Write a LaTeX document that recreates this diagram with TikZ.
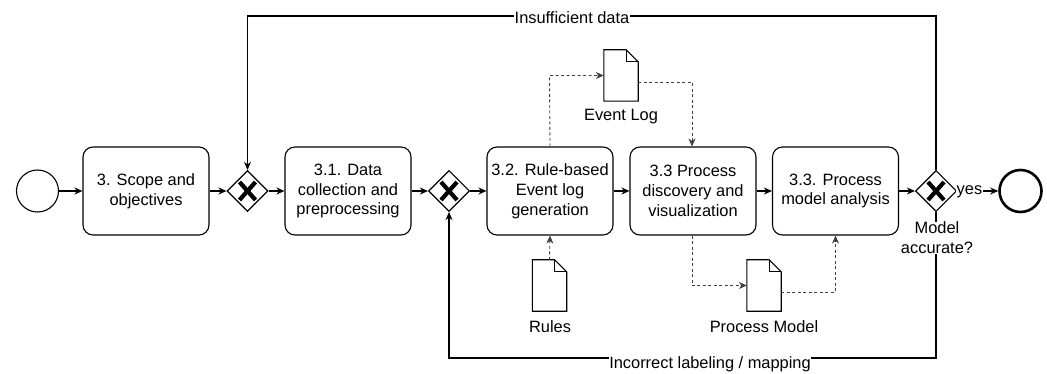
\documentclass[tikz,border=0pt]{standalone}
\usepackage{fontspec}
\setmainfont{Liberation Sans}
\usetikzlibrary{arrows.meta,shapes.geometric}
\tikzset{
  txt/.style={font=\fontsize{16.4}{19.8}\selectfont, text=black},
  task/.style={txt, draw=black, line width=1.1pt, rounded corners=10pt, minimum width=126pt, minimum height=88pt, inner sep=0pt, align=center},
  gate/.style={draw=black, line width=1.1pt, diamond, shape aspect=1, minimum width=41pt, minimum height=41pt, inner sep=0pt},
  gx/.style={line width=4.2pt, line cap=butt},
  flow/.style={draw=black, line width=1.1pt, -{Stealth[length=8pt,width=7pt,inset=2.5pt]}},
  plain/.style={draw=black, line width=1.1pt},
  assoc/.style={draw=black!75, line width=0.9pt, dash pattern=on 3pt off 2.5pt, -{Stealth[length=8pt,width=7pt,inset=2.5pt]}},
  assocp/.style={draw=black!75, line width=0.9pt, dash pattern=on 3pt off 2.5pt},
  docbox/.style={minimum width=34pt, minimum height=51pt, inner sep=0pt},
  lbl/.style={txt, fill=white, inner sep=1pt},
  plbl/.style={txt, inner sep=1pt, align=center},
}
\newcommand{\docshape}[1]{%
  \draw[line width=1.1pt, line join=miter] (#1.south west) -- (#1.north west) -- ([xshift=-12pt]#1.north east) -- ([yshift=-12pt]#1.north east) -- (#1.south east) -- cycle;
  \draw[line width=1pt] ([xshift=-12pt]#1.north east) -- ([xshift=-12pt,yshift=-12pt]#1.north east) -- ([yshift=-12pt]#1.north east);
}
\begin{document}
\begin{tikzpicture}[x=1pt,y=-1pt]
\useasboundingbox (0,0) rectangle (1047,374);
% events
\node[circle, draw=black, line width=1.1pt, minimum size=42pt, inner sep=0pt] (start) at (37.5,191) {};
\node[circle, draw=black, line width=2.6pt, minimum size=42pt, inner sep=0pt] (end) at (1020.5,191) {};
% tasks
\node[task] (t0) at (146,191) {3. Scope and\\objectives};
\node[task] (t1) at (348,191) {3.1. Data\\collection and\\preprocessing};
\node[task] (t2) at (550,191) {3.2. Rule-based\\Event log\\generation};
\node[task] (t3) at (693,191) {3.3 Process\\discovery and\\visualization};
\node[task] (t4) at (835.5,191) {3.3. Process\\model analysis};
% gateways
\node[gate] (g1) at (247.5,191) {};
\node[gate] (g2) at (449,191) {};
\node[gate] (g3) at (936,191) {};
\foreach \g in {g1,g2,g3}{
  \draw[gx] (\g.center) ++(-8,-9) -- ++(16,18);
  \draw[gx] (\g.center) ++(8,-9) -- ++(-16,18);
}
% documents
\node[docbox] (elog) at (621,75.5) {};
\node[docbox] (rules) at (549.5,285.5) {};
\node[docbox] (pmod) at (764,285.5) {};
\docshape{elog}
\docshape{rules}
\docshape{pmod}
\node[plbl] (elogl) at (621,117) {Event Log};
\node[plbl] (rulesl) at (550,327) {Rules};
\node[plbl] (pmodl) at (764,327) {Process Model};
% sequence flows
\draw[flow] (start.east) -- (t0.west);
\draw[flow] (t0.east) -- (g1.west);
\draw[flow] (g1.east) -- (t1.west);
\draw[flow] (t1.east) -- (g2.west);
\draw[flow] (g2.east) -- (t2.west);
\draw[flow] (t2.east) -- (t3.west);
\draw[flow] (t3.east) -- (t4.west);
\draw[flow] (t4.east) -- (g3.west);
\draw[flow] (g3.east) -- (end.west);
% loops
\coordinate (topr) at (936,16);
\coordinate (topl) at (247.5,16);
\draw[flow] (g3.north) -- (topr) -- (topl) -- (g1.north);
\coordinate (botr) at (936,358);
\coordinate (botl) at (449,358);
\draw[flow] (g3.south) -- (botr) -- (botl) -- (g2.south);
\node[lbl] (insuf) at (572,18) {Insufficient data};
\node[lbl, inner sep=0.5pt] (incorr) at (710,364) {Incorrect labeling / mapping};
\node[lbl, align=center, inner sep=0.5pt] (acc) at (937,238) {Model\\accurate?};
\node[lbl, inner sep=0.5pt] (yes) at (969.5,192) {yes};
% data associations
\coordinate (a1) at (549.5,75.5);
\draw[assoc] (t2.north) -- (a1) -- (elog.west);
\coordinate (a2) at (692,82);
\draw[assoc] ([yshift=-6.5pt]elog.east) -- (a2) -- (t3.north -| a2);
\draw[assoc] (rules.north) -- (t2.south);
\coordinate (a3) at (692,285.5);
\draw[assoc] (t3.south -| a3) -- (a3) -- (pmod.west);
\coordinate (a4) at (835.5,292);
\draw[assoc] ([yshift=-6.5pt]pmod.east) -- (a4) -- (t4.south);
\end{tikzpicture}
\end{document}
